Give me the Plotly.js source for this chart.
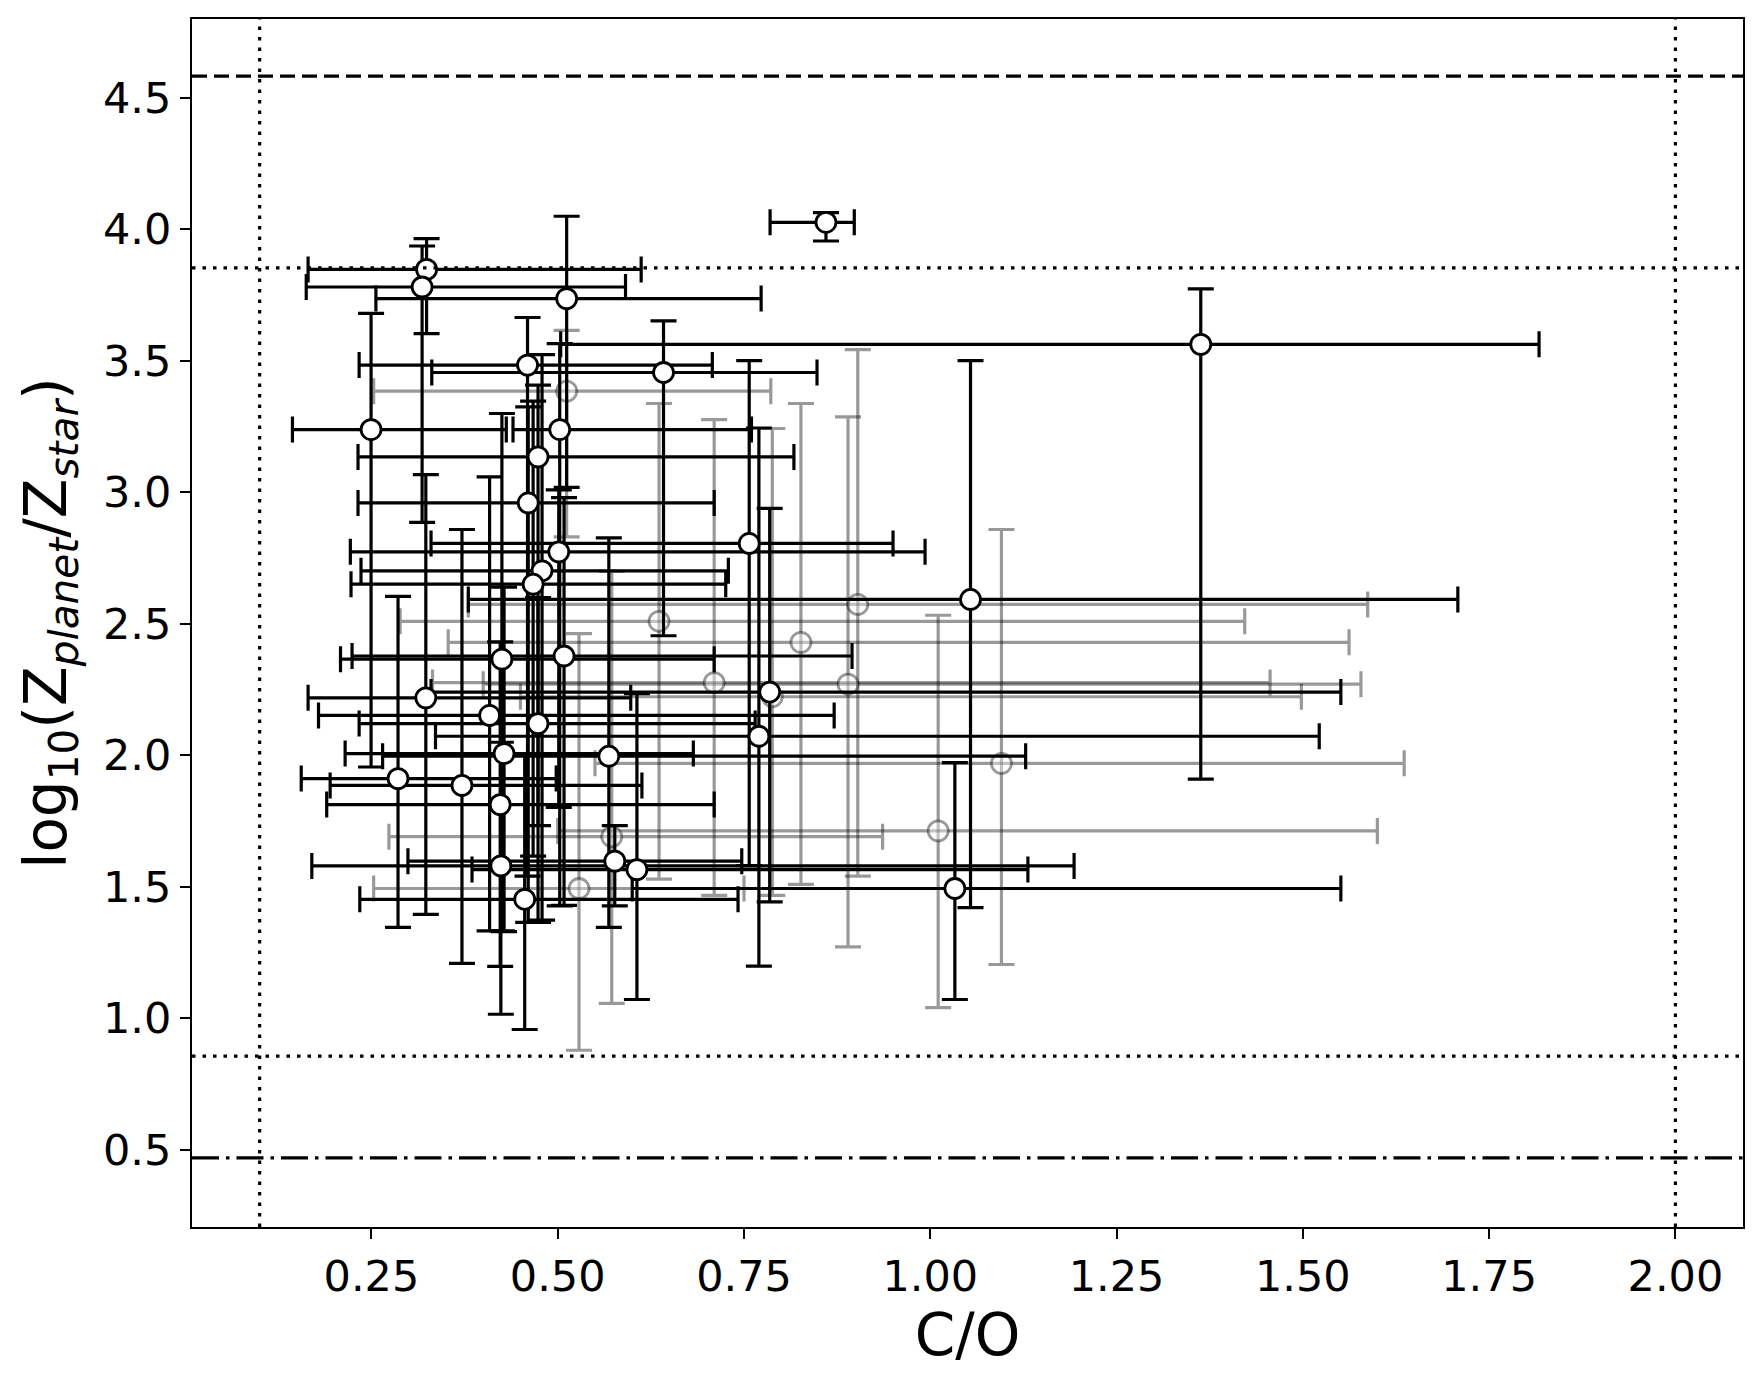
<!DOCTYPE html>
<html>
<head>
<meta charset="utf-8">
<script src="https://cdn.plot.ly/plotly-3.0.1.min.js"></script>
<style>
  body { margin: 0; background: #fff; }
  #plot { width: 1763px; height: 1380px; }
</style>
</head>
<body>
<div id="plot"></div>
<script>
// black points: C/O with lower/upper bounds, log10(Zp/Zs) with upper/lower bounds
var coBlack   = [0.860, 0.324, 0.318, 0.512, 1.363, 0.4595, 0.642, 0.2495, 0.5027, 0.4736, 0.4604, 0.757, 0.5014, 0.479, 0.467, 1.054, 0.5085, 0.4251, 0.7845, 0.323, 0.4086, 0.4736, 0.770, 0.428, 0.5686, 0.2857, 0.3715, 0.4228, 0.4237, 0.5766, 0.6063, 1.033, 0.4557];
var coBlackLo = [0.785, 0.165, 0.1625, 0.256, 0.504, 0.2335, 0.331, 0.144, 0.44, 0.232, 0.232, 0.330, 0.2217, 0.236, 0.2226, 0.38, 0.224, 0.2085, 0.330, 0.165, 0.179, 0.2335, 0.336, 0.2147, 0.265, 0.1558, 0.1946, 0.190, 0.170, 0.299, 0.385, 0.60, 0.2344];
var coBlackHi = [0.898, 0.612, 0.591, 0.773, 1.817, 0.7075, 0.848, 0.431, 0.760, 0.817, 0.710, 0.950, 0.993, 0.729, 0.7255, 1.708, 0.895, 0.710, 1.551, 0.598, 0.871, 0.765, 1.522, 0.682, 1.128, 0.498, 0.613, 0.710, 1.193, 0.747, 1.131, 1.551, 0.742];
var zBlack    = [4.027, 3.848, 3.781, 3.737, 3.563, 3.484, 3.456, 3.239, 3.239, 3.135, 2.960, 2.806, 2.774, 2.702, 2.651, 2.593, 2.378, 2.366, 2.241, 2.219, 2.152, 2.121, 2.073, 2.007, 1.997, 1.912, 1.886, 1.813, 1.580, 1.598, 1.566, 1.494, 1.453];
var zBlackHi  = [4.064, 3.965, 3.937, 4.050, 3.774, 3.665, 3.652, 3.681, 3.566, 3.408, 3.325, 3.501, 3.010, 3.524, 3.347, 3.501, 2.98, 3.300, 2.939, 3.068, 3.059, 2.60, 3.245, 2.64, 2.827, 2.605, 2.859, 2.432, 2.05, 1.733, 2.235, 1.973, 2.0];
var zBlackLo  = [3.956, 3.604, 2.886, 3.019, 1.910, 1.541, 2.455, 1.956, 1.428, 1.733, 1.365, 1.581, 1.802, 1.374, 1.617, 1.421, 1.43, 1.333, 1.443, 1.396, 1.333, 1.365, 1.199, 1.33, 1.346, 1.346, 1.209, 1.198, 1.016, 1.428, 1.072, 1.072, 0.958];

// grey (faded) points
var coGrey   = [0.512, 0.636, 0.9027, 0.8264, 0.710, 0.8896, 0.788, 1.0955, 1.0106, 0.5725, 0.5286];
var coGreyLo = [0.253, 0.2885, 0.380, 0.353, 0.332, 0.40, 0.45, 0.55, 0.50, 0.2735, 0.253];
var coGreyHi = [0.786, 1.422, 1.587, 1.562, 1.456, 1.578, 1.498, 1.636, 1.600, 0.936, 0.75];
var zGrey    = [3.385, 2.510, 2.574, 2.430, 2.277, 2.271, 2.223, 1.970, 1.713, 1.691, 1.494];
var zGreyHi  = [3.616, 3.338, 3.543, 3.338, 3.277, 3.287, 3.243, 2.859, 2.533, 2.70, 2.463];
var zGreyLo  = [2.831, 1.53, 1.541, 1.510, 1.468, 1.272, 1.468, 1.205, 1.041, 1.057, 0.879];

// reference lines
var hDashed = 4.583, hDotted = [3.854, 0.857], hDashDot = 0.47;
var vDotted = [0.1, 2.0];

function diff(a, b) { return a.map(function (v, i) { return Math.abs(v - b[i]); }); }

function errTrace(x, xlo, xhi, y, ylo, yhi, col, mk) {
    return {
        type: 'scatter', mode: 'markers', x: x, y: y, hoverinfo: 'none',
        error_x: { type: 'data', symmetric: false, array: diff(xhi, x), arrayminus: diff(x, xlo),
                   color: col, thickness: 3.2, width: 13 },
        error_y: { type: 'data', symmetric: false, array: diff(yhi, y), arrayminus: diff(y, ylo),
                   color: col, thickness: 3.2, width: 13 },
        marker: mk
    };
}

var greyTrace = errTrace(coGrey, coGreyLo, coGreyHi, zGrey, zGreyLo, zGreyHi, 'rgba(0,0,0,0.4)',
    { symbol: 'circle', size: 20, color: 'rgba(255,255,255,0.4)', line: { color: 'rgba(0,0,0,0.4)', width: 2.8 } });
var blackTrace = errTrace(coBlack, coBlackLo, coBlackHi, zBlack, zBlackLo, zBlackHi, '#000',
    { symbol: 'circle', size: 20, color: '#fff', line: { color: '#000', width: 2.8 } });

var shapes = [];
shapes.push({ type: 'line', xref: 'paper', x0: 0, x1: 1, y0: hDashed, y1: hDashed, layer: 'above',
              line: { color: '#000', width: 3.2, dash: '15px,7px' } });
hDotted.forEach(function (v) {
    shapes.push({ type: 'line', xref: 'paper', x0: 0, x1: 1, y0: v, y1: v, layer: 'above',
                  line: { color: '#000', width: 3.2, dash: '3.5px,7px' } });
});
shapes.push({ type: 'line', xref: 'paper', x0: 0, x1: 1, y0: hDashDot, y1: hDashDot, layer: 'above',
              line: { color: '#000', width: 3.2, dash: '27px,7px,3.5px,7px' } });
vDotted.forEach(function (v) {
    shapes.push({ type: 'line', yref: 'paper', y0: 0, y1: 1, x0: v, x1: v, layer: 'above',
                  line: { color: '#000', width: 3.2, dash: '3.5px,7px' } });
});

var font = 'DejaVu Sans, sans-serif';
var layout = {
    width: 1763, height: 1380,
    margin: { l: 192, r: 20, t: 19, b: 153 },
    paper_bgcolor: '#fff', plot_bgcolor: '#fff',
    showlegend: false,
    font: { family: font, color: '#000' },
    xaxis: {
        range: [0.0092, 2.0907], tick0: 0, dtick: 0.25, tickformat: '.2f',
        showgrid: false, zeroline: false,
        showline: true, mirror: true, linecolor: '#000', linewidth: 2,
        ticks: 'outside', ticklen: 10, tickwidth: 2, tickcolor: '#000',
        tickfont: { family: font, size: 43 },
        title: { text: 'C/O', font: { family: font, size: 58 }, standoff: 10 }
    },
    yaxis: {
        range: [0.207, 4.80], tick0: 0, dtick: 0.5, tickformat: '.1f',
        showgrid: false, zeroline: false,
        showline: true, mirror: true, linecolor: '#000', linewidth: 2,
        ticks: 'outside', ticklen: 10, tickwidth: 2, tickcolor: '#000',
        tickfont: { family: font, size: 43 },
        title: { text: 'log<sub>10</sub>(Z<sub><i>planet</i></sub>/Z<sub><i>star</i></sub>)',
                 font: { family: font, size: 58 }, standoff: 18 }
    },
    shapes: shapes
};

Plotly.newPlot('plot', [greyTrace, blackTrace], layout, { displayModeBar: false, staticPlot: true });
</script>
</body>
</html>
